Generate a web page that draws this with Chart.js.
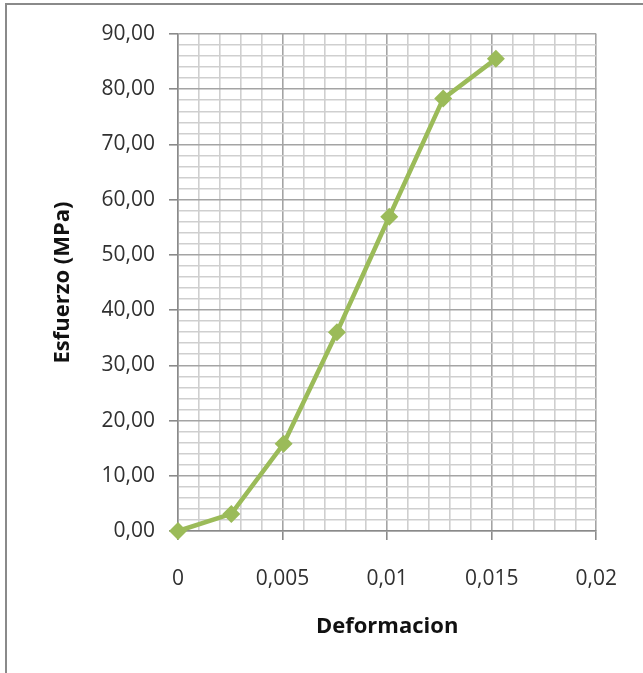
<!DOCTYPE html>
<html><head><meta charset="utf-8">
<script src="https://cdn.jsdelivr.net/npm/chart.js@4.4.0/dist/chart.umd.min.js"></script>
<style>
html,body{margin:0;padding:0;background:#fff;overflow:hidden}
#frame{position:absolute;left:5px;top:3px;width:700px;height:700px;border:2px solid #8a8a8a;}
#wrap{position:absolute;left:0;top:0;width:643px;height:673px}
</style></head><body>
<div id="frame"></div>
<div id="wrap"><canvas id="c" width="643" height="673"></canvas></div>
<script>
const deformacion = [0, 0.00255, 0.00505, 0.0076, 0.0101, 0.01268, 0.0152];
const esfuerzo = [0, 3.1, 15.8, 36.0, 56.9, 78.3, 85.5];
const xTickLabels = ['0', '0,005', '0,01', '0,015', '0,02'];
const yTickLabels = ['0,00','10,00','20,00','30,00','40,00','50,00','60,00','70,00','80,00','90,00'];
const xTitle = 'Deformacion';
const yTitle = 'Esfuerzo (MPa)';

const points = deformacion.map((x, i) => ({x: x, y: esfuerzo[i]}));
const FONT = '"Open Sans", sans-serif';
const X_MINOR = 0.001, X_MAJOR = 0.005, X_MAX = 0.02;
const Y_MINOR = 2, Y_MAJOR = 10, Y_MAX = 90;
const majorX = v => Math.abs(v / X_MAJOR - Math.round(v / X_MAJOR)) < 1e-6;
const majorY = v => Math.abs(v / Y_MAJOR - Math.round(v / Y_MAJOR)) < 1e-6;
const MAJOR = '#a4a4a4', MINOR = '#cfcfcf', AXIS = '#8a8a8a';

function makeTicks(max, step) {
  const n = Math.round(max / step), out = [];
  for (let i = 0; i <= n; i++) out.push({ value: +(i * step).toFixed(6) });
  return out;
}

new Chart(document.getElementById('c'), {
  type: 'line',
  data: { datasets: [{
    data: points,
    borderColor: '#9bbb59',
    backgroundColor: '#9bbb59',
    borderWidth: 4.5,
    pointStyle: 'rectRot',
    pointRadius: 9,
    pointHoverRadius: 9,
    pointBorderWidth: 0,
    tension: 0,
    clip: false
  }]},
  options: {
    responsive: false,
    animation: false,
    events: [],
    layout: { padding: { left: 0, top: 34, right: 44, bottom: 0 } },
    plugins: { legend: { display: false }, tooltip: { enabled: false } },
    scales: {
      x: {
        type: 'linear', min: 0, max: X_MAX,
        afterFit: s => { s.height = 142; },
        afterBuildTicks: s => { s.ticks = makeTicks(X_MAX, X_MINOR); },
        ticks: {
          autoSkip: false, maxRotation: 0, padding: 26,
          color: '#303030', font: { family: FONT, size: 21 },
          callback: v => majorX(v) ? xTickLabels[Math.round(v / X_MAJOR)] : ''
        },
        grid: {
          color: c => majorX(c.tick.value) ? MAJOR : MINOR,
          tickColor: c => majorX(c.tick.value) ? AXIS : 'rgba(0,0,0,0)',
          tickLength: 9, lineWidth: 1.6
        },
        border: { color: AXIS, width: 1.5 },
        title: { display: true, text: xTitle, color: '#111',
          font: { family: FONT, size: 22, weight: 'bold' },
          padding: { top: 0, bottom: 33 } }
      },
      y: {
        min: 0, max: Y_MAX,
        afterFit: s => { s.width = 178; },
        afterBuildTicks: s => { s.ticks = makeTicks(Y_MAX, Y_MINOR); },
        ticks: {
          autoSkip: false, padding: 14,
          color: '#303030', font: { family: FONT, size: 21 },
          callback: v => majorY(v) ? yTickLabels[Math.round(v / Y_MAJOR)] : ''
        },
        grid: {
          color: c => majorY(c.tick.value) ? MAJOR : MINOR,
          tickColor: c => majorY(c.tick.value) ? AXIS : 'rgba(0,0,0,0)',
          tickLength: 9, lineWidth: 1.6
        },
        border: { color: AXIS, width: 1.5 },
        title: { display: true, text: yTitle, color: '#111',
          font: { family: FONT, size: 22, weight: 'bold' },
          padding: { top: 50, bottom: 0 } }
      }
    }
  }
});
</script>
</body></html>
